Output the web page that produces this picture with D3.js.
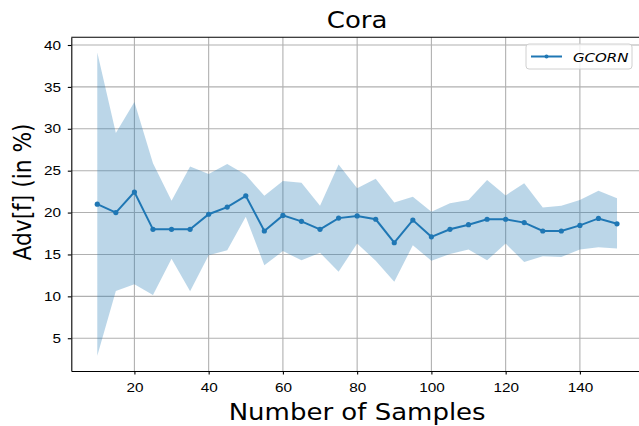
<!doctype html>
<html lang="en">
<head>
<meta charset="utf-8">
<title>Cora</title>
<script src="https://d3js.org/d3.v7.min.js"></script>
<style>
  body { margin: 0; background: #fff; }
  svg { font-family: "DejaVu Sans", sans-serif; display: block; }
  .grid line { stroke: #b0b0b0; stroke-width: 1.1; }
  .axis path, .axis line { stroke: #000; stroke-width: 1.1; }
  .axis text {
    font-size: 15.3px; fill: #000;
    transform-box: fill-box; transform-origin: center; transform: scaleY(0.87);
  }
</style>
</head>
<body>
<div id="chart"></div>
<script>
// sample counts
var samples = [10, 15, 20, 25, 30, 35, 40, 45, 50, 55, 60, 65, 70, 75, 80,
               85, 90, 95, 100, 105, 110, 115, 120, 125, 130, 135, 140, 145, 150];
// mean advantage (in %)
var meanAdv = [21.0, 20.0, 22.45, 18.0, 18.0, 18.0, 19.8, 20.65, 22.0, 17.8, 19.66, 18.95, 18.0, 19.34, 19.6,
               19.2, 16.4, 19.1, 17.1, 18.0, 18.55, 19.2, 19.2, 18.8, 17.8, 17.8, 18.47, 19.3, 18.66];
// band upper / lower
var upperAdv = [39.1, 29.5, 33.2, 25.9, 21.4, 25.5, 24.6, 25.8, 24.5, 22.0, 23.76, 23.56, 20.8, 25.75, 22.9,
                24.05, 21.2, 21.9, 20.1, 21.1, 21.5, 23.9, 22.05, 23.5, 20.6, 20.8, 21.5, 22.6, 21.7];
var lowerAdv = [2.9, 10.63, 11.43, 10.15, 14.5, 10.6, 14.9, 15.5, 19.5, 13.7, 15.4, 14.3, 15.2, 12.95, 16.3,
                14.25, 11.75, 16.1, 14.25, 15.05, 15.6, 14.3, 16.3, 14.1, 14.8, 14.7, 15.6, 15.85, 15.7];
var xTicks = [20, 40, 60, 80, 100, 120, 140];
var yTicks = [5, 10, 15, 20, 25, 30, 35, 40];

var W = 639, H = 426;
var margin = {top: 37.3, right: -4, bottom: 55, left: 71.3},
    width = W - margin.left - margin.right,
    height = H - margin.top - margin.bottom;
var squash = 0.87; // picture is a little flattened vertically

var data = samples.map(function (s, i) {
  return {x: s, y: meanAdv[i], hi: upperAdv[i], lo: lowerAdv[i]};
});

var svg = d3.select("#chart").append("svg")
    .attr("width", W)
    .attr("height", H);

var g = svg.append("g")
    .attr("transform", "translate(" + margin.left + "," + margin.top + ")");

var x = d3.scaleLinear().domain([3, 157]).range([0, width]);
var y = d3.scaleLinear().domain([1.09, 40.92]).range([height, 0]);

// grid
var grid = g.append("g").attr("class", "grid");
grid.selectAll("line.v").data(xTicks).enter().append("line")
    .attr("class", "v")
    .attr("x1", function (d) { return x(d); })
    .attr("x2", function (d) { return x(d); })
    .attr("y1", 0).attr("y2", height);
grid.selectAll("line.h").data(yTicks).enter().append("line")
    .attr("class", "h")
    .attr("x1", 0).attr("x2", width)
    .attr("y1", function (d) { return y(d); })
    .attr("y2", function (d) { return y(d); });

// band
var area = d3.area()
    .x(function (d) { return x(d.x); })
    .y0(function (d) { return y(d.lo); })
    .y1(function (d) { return y(d.hi); });
g.append("path").datum(data)
    .attr("d", area)
    .attr("fill", "#1f77b4")
    .attr("fill-opacity", 0.3);

// line
var line = d3.line()
    .x(function (d) { return x(d.x); })
    .y(function (d) { return y(d.y); });
g.append("path").datum(data)
    .attr("d", line)
    .attr("fill", "none")
    .attr("stroke", "#1f77b4")
    .attr("stroke-width", 2);

g.append("g").selectAll("circle").data(data).enter().append("circle")
    .attr("cx", function (d) { return x(d.x); })
    .attr("cy", function (d) { return y(d.y); })
    .attr("r", 2.6)
    .attr("fill", "#1f77b4");

// axes
g.append("g").attr("class", "axis")
    .attr("transform", "translate(0," + height + ")")
    .call(d3.axisBottom(x).tickValues(xTicks).tickSize(3.5).tickSizeOuter(0).tickPadding(7.7));
g.append("g").attr("class", "axis")
    .call(d3.axisLeft(y).tickValues(yTicks).tickSize(3.5).tickSizeOuter(0).tickPadding(6.8));
g.append("line")
    .attr("x1", 0).attr("x2", width).attr("y1", 0).attr("y2", 0)
    .attr("stroke", "#000").attr("stroke-width", 1.1);
g.append("line")
    .attr("x1", width).attr("x2", width).attr("y1", 0).attr("y2", height)
    .attr("stroke", "#000").attr("stroke-width", 1.1);

// titles
svg.append("text")
    .attr("transform", "translate(" + (margin.left + width / 2) + ",27.5) scale(1," + squash + ")")
    .attr("text-anchor", "middle")
    .style("font-size", "26px")
    .text("Cora");
svg.append("text")
    .attr("transform", "translate(" + (margin.left + width / 2) + ",420) scale(1," + squash + ")")
    .attr("text-anchor", "middle")
    .style("font-size", "26px")
    .text("Number of Samples");
svg.append("text")
    .attr("transform", "translate(31,192) rotate(-90) scale(" + squash + ",1)")
    .attr("text-anchor", "middle")
    .style("font-size", "25px")
    .text("Adv[f] (in %)");

// legend
var lg = svg.append("g").attr("transform", "translate(526,44)");
lg.append("rect")
    .attr("width", 106).attr("height", 25).attr("rx", 3)
    .attr("fill", "#fff").attr("fill-opacity", 0.8)
    .attr("stroke", "#d0d0d0");
lg.append("line")
    .attr("x1", 5).attr("x2", 36).attr("y1", 12.5).attr("y2", 12.5)
    .attr("stroke", "#1f77b4").attr("stroke-width", 2);
lg.append("circle").attr("cx", 20.5).attr("cy", 12.5).attr("r", 2).attr("fill", "#1f77b4");
lg.append("text")
    .attr("transform", "translate(47,18) scale(1," + squash + ")")
    .style("font-size", "15px").style("font-style", "italic")
    .text("GCORN");
</script>
</body>
</html>
